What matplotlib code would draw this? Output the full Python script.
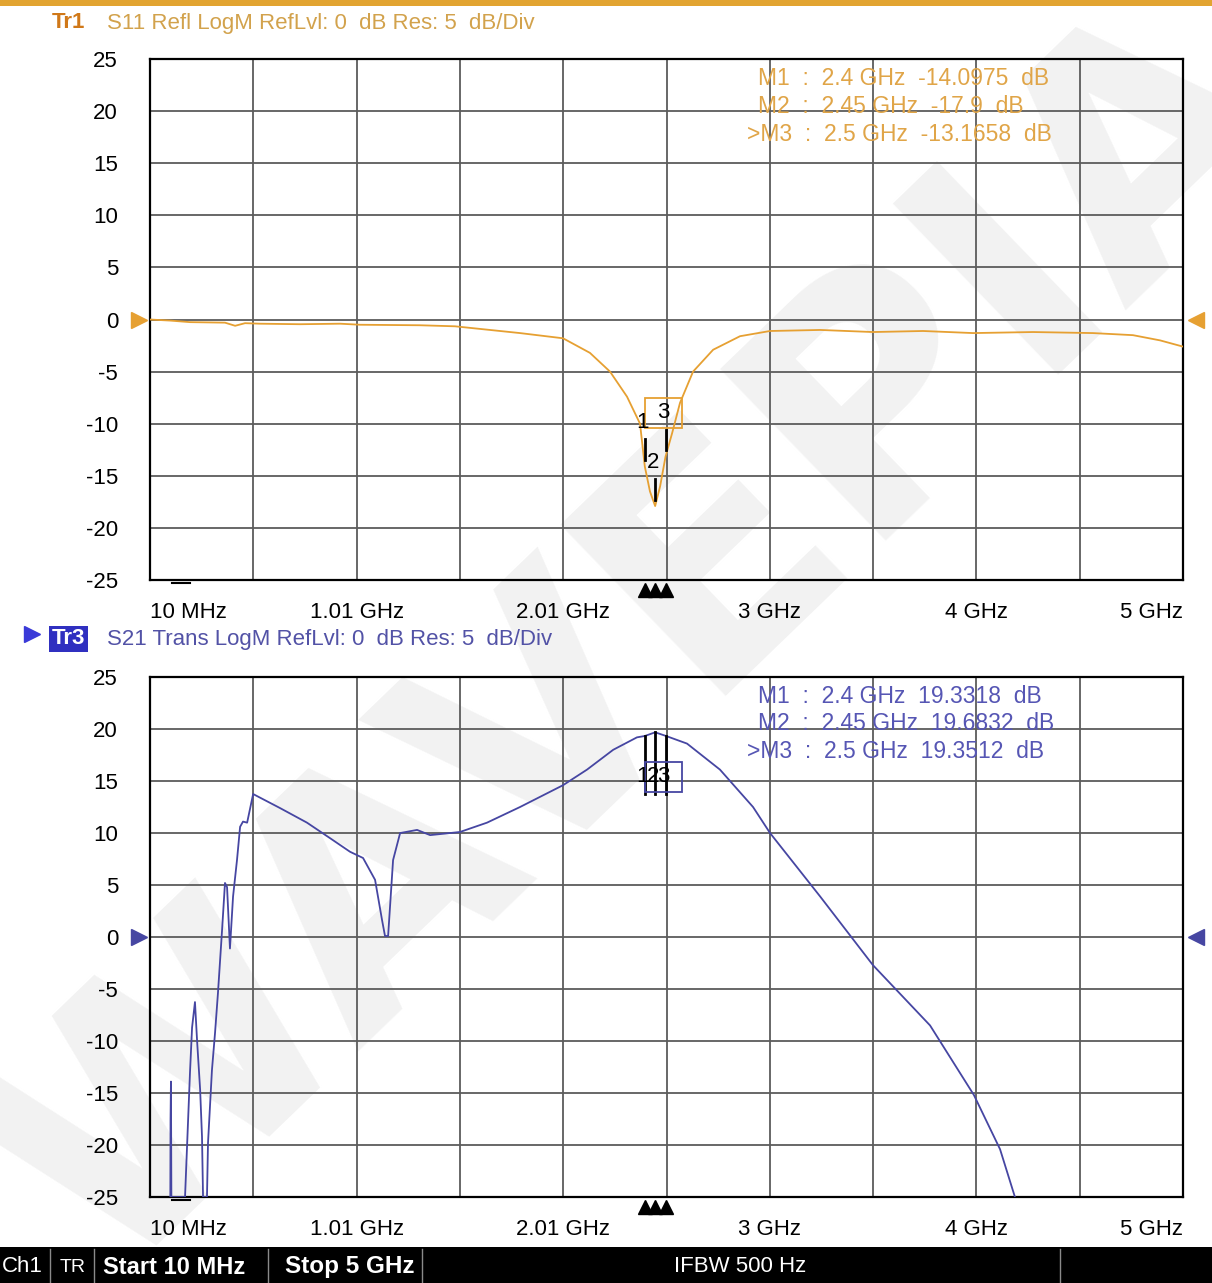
import numpy as np
import matplotlib
matplotlib.use('Agg')
import matplotlib.pyplot as plt
from matplotlib.patches import Rectangle
from matplotlib.lines import Line2D
import matplotlib.transforms as mtransforms

plt.rcParams['font.family'] = ['Liberation Sans', 'DejaVu Sans']
plt.rcParams['axes.unicode_minus'] = False

# --- datos (frecuencia en MHz, nivel en dB) ---
s11_f = [10, 107, 203, 372, 421, 469, 541, 735, 928, 1024, 1314, 1483, 1652,
         1797, 2005, 2135, 2232, 2314, 2377, 2400, 2425, 2450, 2474, 2500,
         2532, 2570, 2633, 2730, 2860, 3005, 3247, 3502, 3744, 3986, 4275,
         4565, 4758, 4889, 5000]
s11_db = [0.0, -0.1, -0.25, -0.3, -0.6, -0.35, -0.4, -0.45, -0.4, -0.5, -0.55,
          -0.65, -1.0, -1.3, -1.8, -3.2, -5.0, -7.4, -10.0, -14.0975, -16.5,
          -17.9, -16.0, -13.1658, -10.9, -8.0, -5.0, -2.9, -1.6, -1.1, -1.0,
          -1.2, -1.1, -1.3, -1.2, -1.3, -1.5, -2.0, -2.6]

s21_f = [10, 105, 108, 109, 111, 113, 179, 189, 203, 213, 227, 237, 252, 261,
         266, 285, 290, 309, 324, 338, 358, 372, 382, 396, 411, 430, 445, 459,
         479, 508, 638, 768, 880, 976, 1039, 1097, 1131, 1145, 1160, 1184,
         1218, 1300, 1363, 1507, 1638, 1797, 2005, 2121, 2247, 2362, 2400,
         2450, 2500, 2604, 2763, 2923, 3005, 3247, 3502, 3778, 3990, 4116,
         4188, 4300]
s21_db = [-40, -40, -25, -17.6, -13.9, -25, -25, -20, -13, -8.7, -6.25, -9.9,
          -14.7, -19.2, -25, -25, -19.8, -12.8, -9.2, -5.4, 0.7, 5.2, 4.8,
          -1.1, 3.9, 7.4, 10.6, 11.1, 11.0, 13.75, 12.4, 11.0, 9.5, 8.2, 7.6,
          5.5, 1.6, 0.1, 0.1, 7.4, 10.0, 10.3, 9.8, 10.1, 11.0, 12.5, 14.6,
          16.1, 18.0, 19.2, 19.3318, 19.6832, 19.3512, 18.6, 16.1, 12.5, 10.0,
          3.9, -2.7, -8.5, -15.2, -20.4, -25, -32]

marker_f = [2400, 2450, 2500]
s11_marker_db = [-14.0975, -17.9, -13.1658]
s21_marker_db = [19.3318, 19.6832, 19.3512]
marker_txt = ['1', '2', '3']

s11_tabla = ['M1  :  2.4 GHz  -14.0975  dB',
             'M2  :  2.45 GHz  -17.9  dB',
             '>M3  :  2.5 GHz  -13.1658  dB']
s21_tabla = ['M1  :  2.4 GHz  19.3318  dB',
             'M2  :  2.45 GHz  19.6832  dB',
             '>M3  :  2.5 GHz  19.3512  dB']

xtick_pos = np.linspace(10, 5000, 11)
xtick_lbl = ['10 MHz', '', '1.01 GHz', '', '2.01 GHz', '', '3 GHz', '', '4 GHz', '', '5 GHz']
ytick_pos = list(range(-25, 30, 5))

naranja = '#E6A032'
azul = '#4646A2'

fig = plt.figure(figsize=(12.12, 12.83), dpi=100)
fig.patch.set_facecolor('white')

# marca de agua
fig.text(0.53, 0.5, 'WAVEPIA', fontsize=235, weight='bold', family='DejaVu Sans',
         color='#f2f2f2', rotation=44, ha='center', va='center', zorder=-5)


def panel(ax, f, db, color, tabla, tabla_color, mk_db, arriba):
    ax.set_facecolor('none')
    ax.plot(f, db, color=color, lw=1.3, zorder=3)
    ax.set_xlim(10, 5000)
    ax.set_ylim(-25, 25)
    ax.set_xticks(xtick_pos)
    ax.set_xticklabels(xtick_lbl)
    for i, t in enumerate(ax.get_xticklabels()):
        if i == 0:
            t.set_ha('left')
        elif i == len(xtick_lbl) - 1:
            t.set_ha('right')
    ax.set_yticks(ytick_pos)
    ax.set_yticklabels([str(v) for v in ytick_pos])
    ax.tick_params(length=0, labelsize=16, colors='black')
    ax.tick_params(axis='x', pad=16)
    ax.tick_params(axis='y', pad=23)
    for t in ax.get_yticklabels():
        t.set_ha('right')
    ax.grid(color='#5c5c5c', lw=1.3)
    ax.set_axisbelow(True)
    for s in ax.spines.values():
        s.set_color('black')
        s.set_linewidth(1.6)

    # tabla de marcadores
    xs = [0.589, 0.589, 0.578]
    for k, linea in enumerate(tabla):
        ax.text(xs[k], 0.9635 - 0.0538 * k, linea, transform=ax.transAxes,
                color=tabla_color, fontsize=16.5, va='center', ha='left')

    # marcadores sobre la traza
    for k, (fm, v) in enumerate(zip(marker_f, mk_db)):
        if arriba:
            ax.plot([fm, fm], [v + 0.6, v + 2.6], color='black', lw=2, zorder=4)
            ly = v + 4.2
        else:
            ax.plot([fm, fm], [v, 13.8], color='black', lw=2, zorder=4)
            ly = 15.4
        ax.text(fm - 12, ly, marker_txt[k], color='black', fontsize=16,
                ha='center', va='center', zorder=5)
        if k == 2:
            ax.add_patch(Rectangle((2400, ly - 1.45), 180, 2.9, fill=False,
                                   edgecolor=color, lw=1.3, zorder=4))

    # triangulos de marcadores bajo el eje
    tr = mtransforms.blended_transform_factory(ax.transData, ax.transAxes)
    ax.plot(marker_f, [-0.02] * 3, ls='none', marker='^', color='black',
            markersize=10, transform=tr, clip_on=False)
    ax.plot([116, 203], [-0.006, -0.006], color='black', lw=1.5, transform=tr, clip_on=False)

    # nivel de referencia
    tr2 = mtransforms.blended_transform_factory(ax.transAxes, ax.transData)
    ax.plot([-0.011], [0], marker='>', color=color, markersize=11, transform=tr2, clip_on=False)
    ax.plot([1.013], [0], marker='<', color=color, markersize=11, transform=tr2, clip_on=False)


ax1 = fig.add_axes([0.1238, 0.5479, 0.8523, 0.4061])
panel(ax1, s11_f, s11_db, naranja, s11_tabla, '#E0A548', s11_marker_db, True)

ax2 = fig.add_axes([0.1238, 0.0670, 0.8523, 0.4053])
panel(ax2, s21_f, s21_db, azul, s21_tabla, '#5656B4', s21_marker_db, False)

# cabeceras
fig.add_artist(Rectangle((0, 1 - 6 / 1283), 1, 6 / 1283, transform=fig.transFigure,
                         color='#E2A431', lw=0))
fig.text(52 / 1212, 1 - 23 / 1283, 'Tr1', color='#D07818', weight='bold', fontsize=16, va='center')
fig.text(107 / 1212, 1 - 23 / 1283, 'S11 Refl LogM RefLvl: 0  dB Res: 5  dB/Div',
         color='#D2A24C', fontsize=16, va='center')

fig.add_artist(Line2D([32 / 1212], [1 - 634 / 1283], marker='>', color='#3a3ad8',
                      markersize=11, transform=fig.transFigure))
fig.text(52 / 1212, 1 - 639 / 1283, 'Tr3', color='white', weight='bold', fontsize=16,
         va='center', bbox=dict(facecolor='#3030c0', edgecolor='none', pad=2))
fig.text(107 / 1212, 1 - 640 / 1283, 'S21 Trans LogM RefLvl: 0  dB Res: 5  dB/Div',
         color='#5252A6', fontsize=16, va='center')

# barra de estado
fig.add_artist(Rectangle((0, 0), 1, 36 / 1283, transform=fig.transFigure, color='black', lw=0))
yb = 16 / 1283
for xp in [50, 94, 268, 422, 1060]:
    fig.add_artist(Line2D([xp / 1212, xp / 1212], [0, 34 / 1283], color='#8a8a8a',
                          lw=1, transform=fig.transFigure))
fig.text(2 / 1212, yb, 'Ch1', color='white', fontsize=16, va='center')
fig.text(60 / 1212, yb, 'TR', color='white', fontsize=14, va='center')
fig.text(103 / 1212, yb, 'Start 10 MHz', color='white', fontsize=17, weight='bold', va='center')
fig.text(285 / 1212, yb, 'Stop 5 GHz', color='white', fontsize=17.5, weight='bold', va='center')
fig.text(740 / 1212, yb, 'IFBW 500 Hz', color='white', fontsize=16, ha='center', va='center')

fig.savefig('out.png', dpi=100)
